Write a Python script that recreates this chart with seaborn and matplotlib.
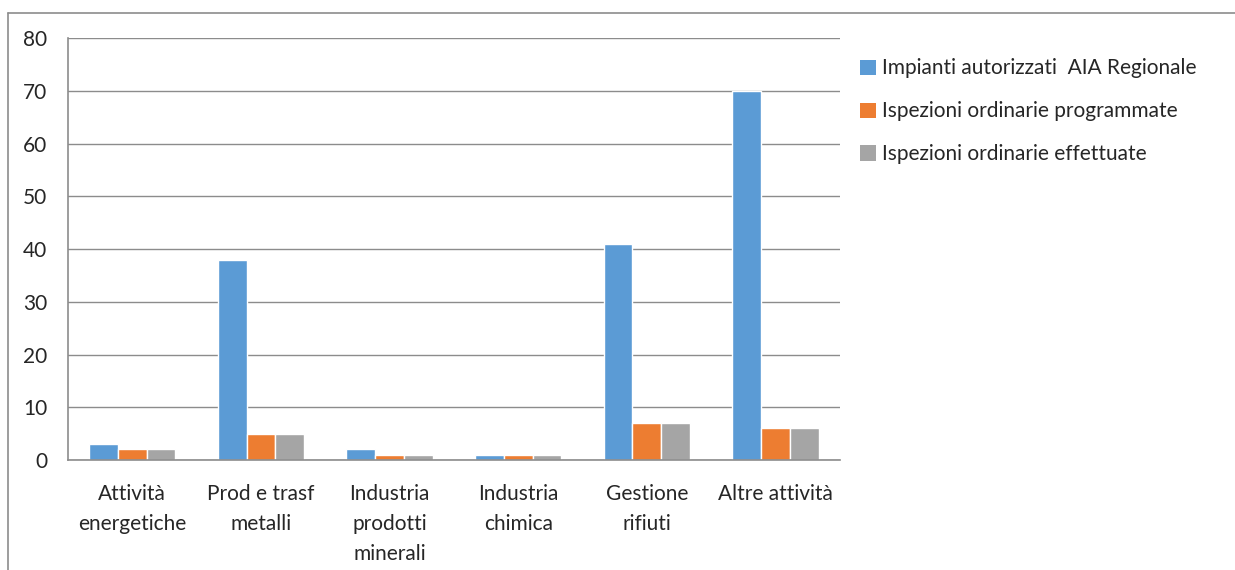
import pandas as pd
import matplotlib.pyplot as plt
import seaborn as sns
from matplotlib.lines import Line2D
from matplotlib.patches import Patch

# Data
categories = ['Attività\nenergetiche', 'Prod e trasf\nmetalli', 'Industria\nprodotti\nminerali',
              'Industria\nchimica', 'Gestione\nrifiuti', 'Altre attività']
impianti = [3, 38, 2, 1, 41, 70]
programmate = [2, 5, 1, 1, 7, 6]
effettuate = [2, 5, 1, 1, 7, 6]
series_names = ['Impianti autorizzati  AIA Regionale', 'Ispezioni ordinarie programmate',
                'Ispezioni ordinarie effettuate']
colors = ['#5B9BD5', '#ED7D31', '#A5A5A5']

df = pd.DataFrame({'Categoria': categories * 3,
                   'Valore': impianti + programmate + effettuate,
                   'Serie': [series_names[0]] * 6 + [series_names[1]] * 6 + [series_names[2]] * 6})

sns.set_style('white')
plt.rcParams['font.family'] = ['Lato', 'DejaVu Sans']

fig = plt.figure(figsize=(12.35, 5.7), dpi=100)
ax = fig.add_axes([0.055, 0.193, 0.625, 0.74])

sns.barplot(data=df, x='Categoria', y='Valore', hue='Serie', palette=colors,
            width=0.67, gap=0, saturation=1, ax=ax, legend=False)

grid_color = '#8C8C8C'
ax.set_ylim(0, 80)
ax.set_xlim(-0.5, 5.5)
ax.set_yticks(range(0, 81, 10))
ax.yaxis.grid(True, color=grid_color, linewidth=1)
ax.set_axisbelow(True)
for s in ['top', 'right']:
    ax.spines[s].set_visible(False)
for s in ['left', 'bottom']:
    ax.spines[s].set_color(grid_color)
    ax.spines[s].set_linewidth(1.2)

# category boundaries as major ticks, labels on minor ticks
ax.set_xticks([i - 0.5 for i in range(7)])
ax.set_xticklabels([])
ax.set_xticks(range(6), minor=True)
ax.set_xticklabels(categories, minor=True, fontsize=15, linespacing=1.65)
ax.tick_params(axis='x', which='major', length=6, width=1.2, color=grid_color, direction='out')
ax.tick_params(axis='x', which='minor', length=0, pad=17)
ax.tick_params(axis='y', length=6, width=1.2, color=grid_color, direction='out', labelsize=15, pad=9)
ax.set_xlabel('')
ax.set_ylabel('')

handles = [Patch(facecolor=c, edgecolor='none') for c in colors]
fig.legend(handles, series_names, loc='upper left', bbox_to_anchor=(0.690, 0.912),
           frameon=False, fontsize=15, handlelength=0.75, handleheight=0.75,
           handletextpad=0.3, labelspacing=1.1, borderaxespad=0)

# outer chart frame (partially visible)
fig.add_artist(Line2D([8 / 1235, 1], [1 - 13 / 570, 1 - 13 / 570], color='#8C8C8C', linewidth=1.2,
                      transform=fig.transFigure))
fig.add_artist(Line2D([8 / 1235, 8 / 1235], [0, 1 - 13 / 570], color='#8C8C8C', linewidth=1.2,
                      transform=fig.transFigure))

plt.savefig('out.png', dpi=100)
